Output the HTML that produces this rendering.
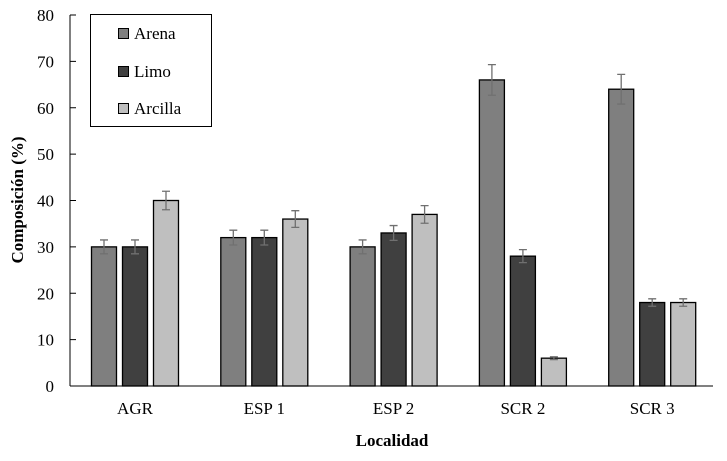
<!DOCTYPE html>
<html><head><meta charset="utf-8"><style>
body{margin:0;background:#fff;}
svg text{font-family:"Liberation Serif",serif;fill:#000;}
</style></head><body>
<svg id="chart" width="727" height="456" xmlns="http://www.w3.org/2000/svg">
<g id="axes"></g><g id="bars"></g>
<g>
<rect x="90.5" y="14.5" width="121" height="112" fill="#fff" stroke="#000" stroke-width="1"/>
<rect x="118.5" y="28.5" width="10" height="10" fill="#7f7f7f" stroke="#000"/>
<text x="134" y="39" font-size="17">Arena</text>
<rect x="118.5" y="66.5" width="10" height="10" fill="#404040" stroke="#000"/>
<text x="134" y="77" font-size="17">Limo</text>
<rect x="118.5" y="103.5" width="10" height="10" fill="#bfbfbf" stroke="#000"/>
<text x="134" y="114" font-size="17">Arcilla</text>
</g>
<text x="392" y="446" font-size="17" font-weight="bold" text-anchor="middle">Localidad</text>
<text transform="translate(23,200) rotate(-90)" font-size="17" font-weight="bold" text-anchor="middle">Composición (%)</text>
</svg>
<script>
const categories=["AGR","ESP 1","ESP 2","SCR 2","SCR 3"];
const seriesNames=["Arena","Limo","Arcilla"];
const arena=[30,32,30,66,64];
const limo=[30,32,33,28,18];
const arcilla=[40,36,37,6,18];
const arenaErr=[1.5,1.6,1.5,3.3,3.2];
const limoErr=[1.5,1.6,1.6,1.4,0.8];
const arcillaErr=[2,1.8,1.9,0.3,0.8];
const yTicks=[0,10,20,30,40,50,60,70,80];
const NS="http://www.w3.org/2000/svg";
const y0=386,yTop=15,x0=70,x1=713;
const yScale=v=>y0-(v/80)*(y0-yTop);
const xCenter=i=>135+i*129.3;
function mk(tag,attrs,parent){const e=document.createElementNS(NS,tag);for(const k in attrs)e.setAttribute(k,attrs[k]);parent.appendChild(e);return e;}
const axes=document.getElementById('axes'),bars=document.getElementById('bars');
let l=mk('line',{x1:x0,y1:yTop,x2:x0,y2:y0,stroke:'#000','stroke-width':1},axes);


l=mk('line',{x1:x0,y1:y0,x2:x1,y2:y0,stroke:'#000','stroke-width':1},axes);


yTicks.forEach(t=>{const y=yScale(t);
 const tk=mk('line',{x1:x0,y1:y,x2:x0+6,y2:y,stroke:'#000'},axes);
 
 
 const tx=mk('text',{x:54,y:y+6,'font-size':17,'text-anchor':'end'},axes);tx.textContent=t;
 
 
});
const data=[arena,limo,arcilla],errs=[arenaErr,limoErr,arcillaErr],colors=['#7f7f7f','#404040','#bfbfbf'];
categories.forEach((c,i)=>{
 const tx=mk('text',{x:xCenter(i),y:414,'font-size':17,'text-anchor':'middle'},axes);tx.textContent=c;
 
 
 data.forEach((s,j)=>{
  const cx=xCenter(i)+(j-1)*31,w=25,v=s[i],y=yScale(v);
  const r=mk('rect',{x:cx-w/2,y:y,width:w,height:y0-y,fill:colors[j],stroke:'#000','stroke-width':1.3},bars);
  
  
  const e=errs[j][i],ya=yScale(v+e),yb=yScale(v-e);
  const g=mk('path',{d:`M${cx},${ya}V${yb}M${cx-4},${ya}H${cx+4}M${cx-4},${yb}H${cx+4}`,stroke:'#707070','stroke-width':1.3,fill:'none'},bars);
  
  
 });
});
</script>
</body></html>
